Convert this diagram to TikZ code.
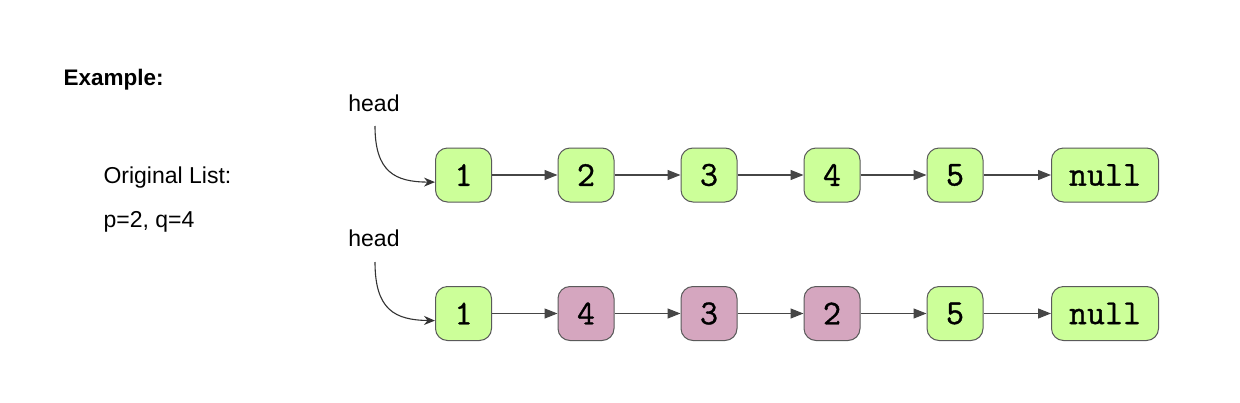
\documentclass[tikz,border=0pt]{standalone}
\usepackage{fontspec}
\setmainfont{Liberation Sans}
\newfontfamily\nodefont[FakeBold=0.9]{Latin Modern Mono}
\usepackage{xcolor}
\usetikzlibrary{arrows.meta}

\definecolor{nodegreen}{RGB}{204,255,153}
\definecolor{nodepink}{RGB}{213,166,191}
\definecolor{nodeline}{RGB}{90,90,90}
\definecolor{linkline}{RGB}{70,70,70}

\tikzset{
  lnode/.style={draw=nodeline,line width=1pt,rounded corners=12pt,fill=nodegreen,
    minimum width=56pt,minimum height=54pt,inner sep=0pt,
    font=\nodefont\fontsize{35}{38}\selectfont},
  pnode/.style={lnode,fill=nodepink},
  nullnode/.style={lnode,minimum width=107pt},
  link/.style={draw=linkline,line width=1.1pt,-{Triangle[length=13pt,width=10pt]}},
  headarrow/.style={draw=black!80,line width=1.1pt,-{Stealth[length=11pt,width=9pt]}},
  txt/.style={font=\fontsize{23}{27}\selectfont}
}

\begin{document}
\begin{tikzpicture}[x=1pt,y=-1pt]
    \useasboundingbox[fill=white] (0,0) rectangle (1240,402);

    % labels on the left
    \node[txt,anchor=west,font=\bfseries\fontsize{22.5}{27}\selectfont] (ex) at (60,80) {Example:};
    \node[txt,anchor=west] (orig) at (100,178) {Original List:};
    \node[txt,anchor=west] (pq) at (100,222) {p=2, q=4};

    % original list
    \node (n11) at (463.5,175) [lnode] {1};
    \node (n12) at (586,175) [lnode] {2};
    \node (n13) at (709,175) [lnode] {3};
    \node (n14) at (832,175) [lnode] {4};
    \node (n15) at (955,175) [lnode] {5};
    \node (n16) at (1105,175) [nullnode] {null};

    \draw[link] (n11) -- (n12);
    \draw[link] (n12) -- (n13);
    \draw[link] (n13) -- (n14);
    \draw[link] (n14) -- (n15);
    \draw[link] (n15) -- (n16);

    \node[txt] (h1) at (374,103) {head};
    \coordinate (h1s) at (375,126);
    \draw[headarrow] (h1s) .. controls (375,172) and (395,182) .. (n11.194);

    % reversed between p and q
    \node (n21) at (463.5,313.5) [lnode] {1};
    \node (n22) at (586,313.5) [pnode] {4};
    \node (n23) at (709,313.5) [pnode] {3};
    \node (n24) at (832,313.5) [pnode] {2};
    \node (n25) at (955,313.5) [lnode] {5};
    \node (n26) at (1105,313.5) [nullnode] {null};

    \draw[link] (n21) -- (n22);
    \draw[link] (n22) -- (n23);
    \draw[link] (n23) -- (n24);
    \draw[link] (n24) -- (n25);
    \draw[link] (n25) -- (n26);

    \node[txt] (h2) at (374,238) {head};
    \coordinate (h2s) at (375,262);
    \draw[headarrow] (h2s) .. controls (375,310) and (395,320) .. (n21.194);
\end{tikzpicture}
\end{document}
